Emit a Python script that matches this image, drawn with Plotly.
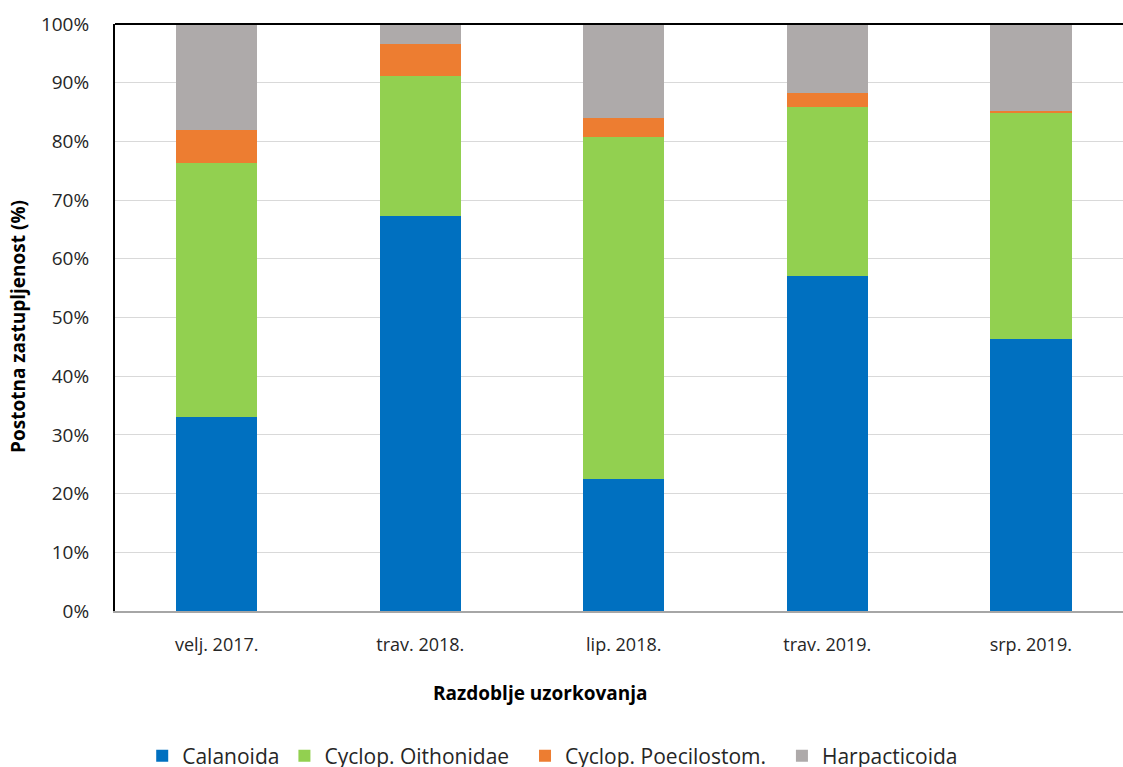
import plotly.graph_objects as go

categories = ["velj. 2017.", "trav. 2018.", "lip. 2018.", "trav. 2019.", "srp. 2019."]
calanoida = [33.0, 67.3, 22.5, 57.1, 46.3]
oithonidae = [43.3, 23.8, 58.2, 28.8, 38.5]
poecilostom = [5.6, 5.5, 3.3, 2.3, 0.4]
harpacticoida = [18.1, 3.4, 16.0, 11.8, 14.8]
series_names = ["Calanoida", "Cyclop. Oithonidae", "Cyclop. Poecilostom.", "Harpacticoida"]
series_colors = ["#0070C0", "#92D050", "#ED7D31", "#AEAAAA"]
y_ticks = [0, 10, 20, 30, 40, 50, 60, 70, 80, 90, 100]

FONT = "Open Sans"
NB = "\u00a0"
legend_pad = ["", NB * 2, NB * 2, ""]
fig = go.Figure()
for name, pad, vals, col in zip(series_names, legend_pad,
                                [calanoida, oithonidae, poecilostom, harpacticoida], series_colors):
    fig.add_trace(go.Bar(x=list(range(len(categories))), y=vals, name=name + pad,
                         marker=dict(color=col, line=dict(width=0)), width=0.4))

fig.update_layout(
    width=1123, height=767,
    margin=dict(l=115, r=0, t=24, b=156, autoexpand=False),
    barmode="stack",
    plot_bgcolor="white", paper_bgcolor="white",
    font=dict(family=FONT, size=18, color="#262626"),
    showlegend=True,
    legend=dict(orientation="h", x=0.027, y=-0.247, xanchor="left", yanchor="middle",
                font=dict(size=21, color="#262626"), traceorder="normal",
                itemwidth=30, tracegroupgap=0),
    xaxis=dict(range=[-0.5, 4.453], tickmode="array", tickvals=list(range(len(categories))),
               ticktext=categories, showline=True, linecolor="#A6A6A6", linewidth=2,
               showgrid=False, zeroline=False, ticks="", ticklabelstandoff=16,
               tickfont=dict(size=18), automargin=False),
    yaxis=dict(range=[0, 100], tickmode="array", tickvals=y_ticks,
               ticktext=[f"{v}%" for v in y_ticks], showline=True, linecolor="black",
               linewidth=2, showgrid=True, gridcolor="#D9D9D9", gridwidth=1,
               zeroline=False, ticks="", ticklabelstandoff=20, tickfont=dict(size=19),
               automargin=False),
    annotations=[
        dict(text="<b>Razdoblje uzorkovanja</b>", xref="paper", yref="paper",
             x=(540 - 115) / 1008, y=(611 - 693) / 587, xanchor="center", yanchor="middle",
             showarrow=False, font=dict(size=19, color="black")),
        dict(text="<b>Postotna zastupljenost (%)</b>", xref="paper", yref="paper",
             x=(18 - 115) / 1008, y=(611 - 327) / 587, xanchor="center", yanchor="middle",
             textangle=-90, showarrow=False, font=dict(size=19, color="black")),
    ],
    shapes=[dict(type="line", xref="paper", yref="paper", x0=0, x1=1, y0=1, y1=1,
                 line=dict(color="black", width=2))],
)

fig.write_html("out.html", config={"displayModeBar": False},
               post_script="document.body.style.margin='0';document.body.style.overflow='hidden';")
